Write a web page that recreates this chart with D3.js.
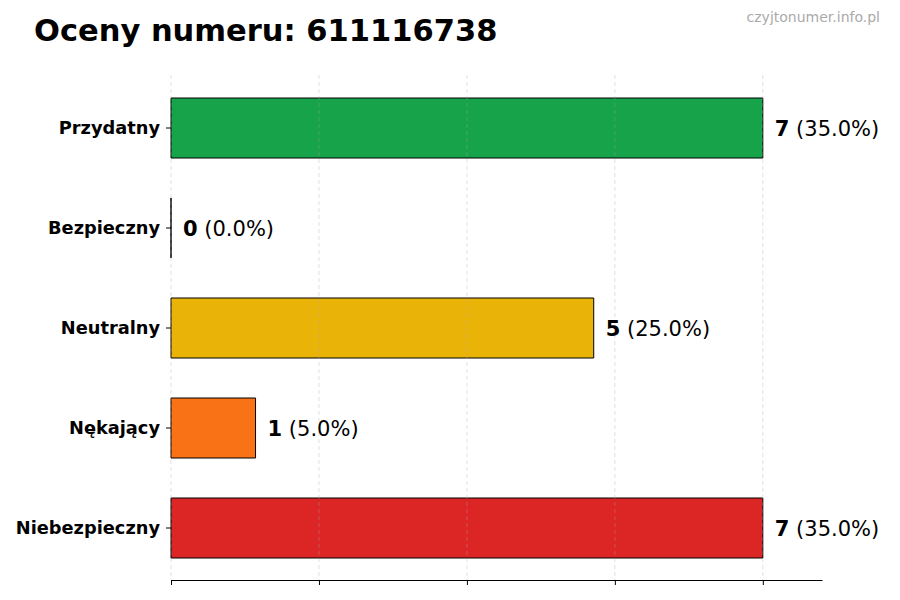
<!DOCTYPE html>
<html>
<head>
<meta charset="utf-8">
<script src="https://cdn.jsdelivr.net/npm/d3@7"></script>
<style>
  body { margin: 0; background: #fff; }
  svg { font-family: "DejaVu Sans", sans-serif; }
</style>
</head>
<body>
<script>
const categories = ["Przydatny", "Bezpieczny", "Neutralny", "Nękający", "Niebezpieczny"];
const counts = [7, 0, 5, 1, 7];
const percents = ["35.0%", "0.0%", "25.0%", "5.0%", "35.0%"];
const barColors = ["#16a34a", "#16a34a", "#eab308", "#f97316", "#dc2626"];
const xTicks = [0, 1.75, 3.5, 5.25, 7];

const width = 900, height = 600;
const margin = {left: 171, right: 78, top: 78, bottom: 20};

const svg = d3.select("body").append("svg")
    .attr("width", width)
    .attr("height", height);

// title + watermark
svg.append("text")
    .attr("x", 34).attr("y", 41)
    .attr("font-size", 30.5).attr("font-weight", "bold")
    .text("Oceny numeru: 611116738");
svg.append("text")
    .attr("x", 880).attr("y", 22)
    .attr("text-anchor", "end")
    .attr("font-size", 14).attr("fill", "#aaa")
    .text("czyjtonumer.info.pl");

const x = d3.scaleLinear()
    .domain([0, d3.max(counts) * 1.1])
    .range([margin.left, width - margin.right]);

const y = d3.scaleBand()
    .domain(categories)
    .range([78, 578])
    .paddingInner(0.4)
    .paddingOuter(0.2);

// bars as paths so a zero-width bar still shows its outline
svg.append("g")
  .selectAll("path")
  .data(categories)
  .join("path")
    .attr("d", (d, i) => {
      const w = x(counts[i]) - x(0);
      return `M${x(0)},${y(d)}h${w}v${y.bandwidth()}h${-w}Z`;
    })
    .attr("fill", (d, i) => barColors[i])
    .attr("stroke", "#000")
    .attr("stroke-width", 1);

// grid (sits over the bars, faint)
svg.append("g")
  .selectAll("line")
  .data(xTicks)
  .join("line")
    .attr("x1", d => x(d)).attr("x2", d => x(d))
    .attr("y1", 75).attr("y2", 580)
    .attr("stroke", "#aaa")
    .attr("stroke-opacity", 0.35)
    .attr("stroke-dasharray", "4,3");

// bottom axis, no labels
const xAxis = svg.append("g")
    .attr("transform", "translate(0,580)")
    .call(d3.axisBottom(x).tickValues(xTicks).tickFormat("").tickSize(5).tickSizeOuter(0));
xAxis.select(".domain").attr("stroke", "#000");

// left axis: ticks + bold labels, no spine
const yAxis = svg.append("g")
    .attr("transform", `translate(${margin.left},0)`)
    .call(d3.axisLeft(y).tickSize(5).tickPadding(6));
yAxis.select(".domain").remove();
yAxis.selectAll("text")
    .attr("font-size", 17.8)
    .attr("font-weight", "bold")
    .attr("font-family", "DejaVu Sans, sans-serif")
    .attr("fill", "#000");

// value labels
const labels = svg.append("g")
  .selectAll("text")
  .data(categories)
  .join("text")
    .attr("x", (d, i) => x(counts[i]) + 12)
    .attr("y", d => y(d) + y.bandwidth() / 2)
    .attr("dy", "0.36em")
    .attr("font-size", 21);
labels.append("tspan").attr("font-weight", "bold").text((d, i) => counts[i]);
labels.append("tspan").text((d, i) => ` (${percents[i]})`);
</script>
</body>
</html>
